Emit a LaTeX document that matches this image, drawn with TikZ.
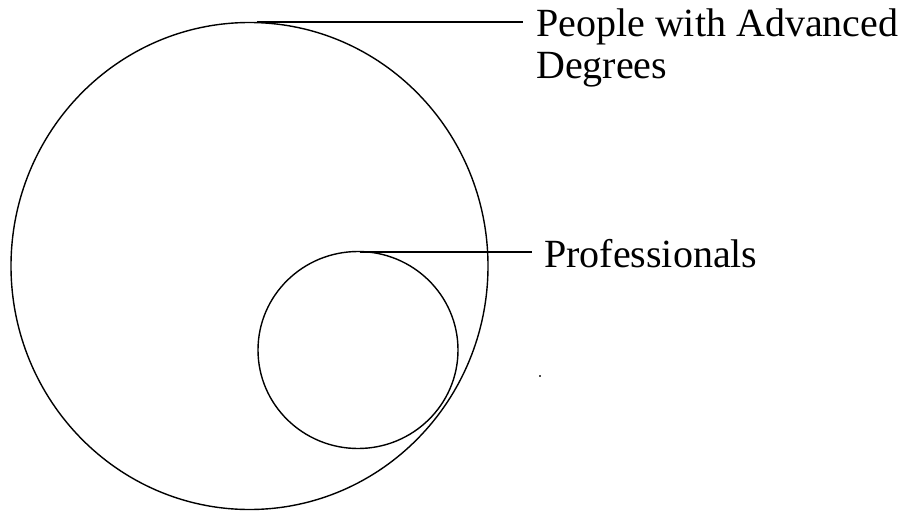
\documentclass[tikz,border=0pt]{standalone}
\usepackage{fontspec}
\setmainfont{Liberation Serif}
\usetikzlibrary{shapes.geometric}
\begin{document}
\begin{tikzpicture}[x=1pt,y=-1pt,
  ring/.style={draw=black,line width=1.4pt,ellipse,inner sep=0pt},
  lead/.style={draw=black,line width=1.4pt},
  lbl/.style={font=\fontsize{40}{41}\selectfont,inner sep=0pt,anchor=base west}]
\useasboundingbox[fill=white] (0,0) rectangle (899,511);
\node[ring,minimum width=477pt,minimum height=487pt] (big) at (249.5,266) {};
\node[ring,minimum width=200pt,minimum height=197pt] (small) at (358,350) {};
\coordinate (a1) at (257,22);
\coordinate (a2) at (523,22);
\coordinate (b1) at (360,252);
\coordinate (b2) at (532,252);
\draw[lead] (a1) -- (a2);
\draw[lead] (b1) -- (b2);
\node[lbl] (t1) at (536,37) {People with Advanced};
\node[lbl] (t1b) at (536,78) {Degrees};
\node[lbl] (t2) at (544,267) {Professionals};
\fill[black!70] (539,375) rectangle (541,377);
\end{tikzpicture}
\end{document}
